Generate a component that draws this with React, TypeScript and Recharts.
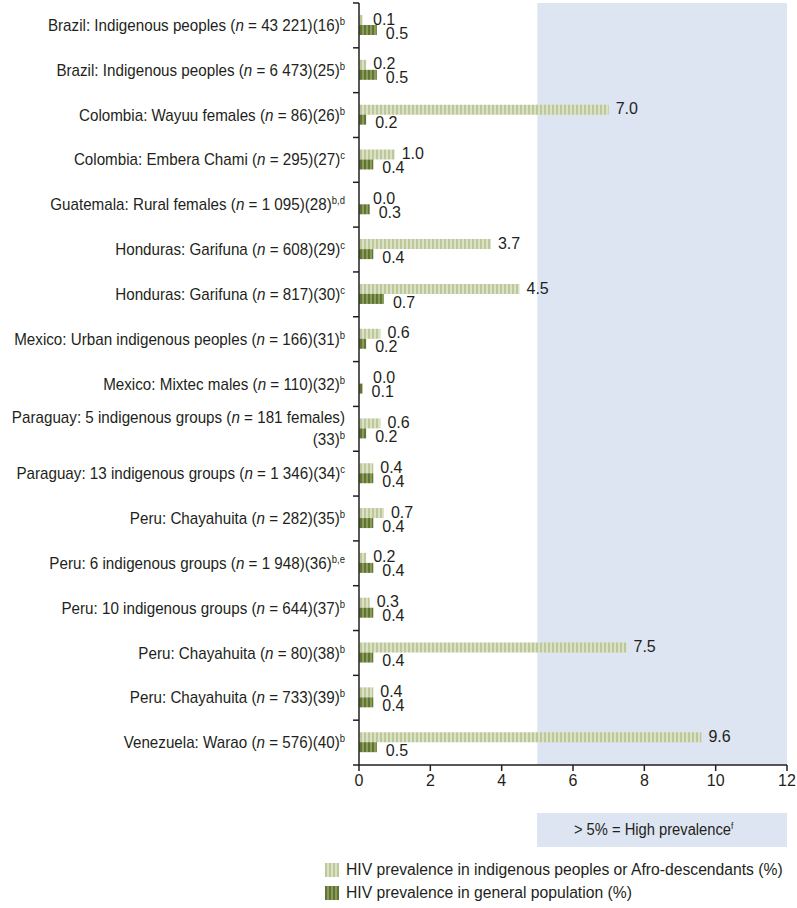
import React from "react";
import {
  BarChart,
  Bar,
  XAxis,
  YAxis,
  ReferenceArea,
  LabelList,
} from "recharts";

const groups = [
  "Brazil: Indigenous peoples",
  "Brazil: Indigenous peoples",
  "Colombia: Wayuu females",
  "Colombia: Embera Chami",
  "Guatemala: Rural females",
  "Honduras: Garifuna",
  "Honduras: Garifuna",
  "Mexico: Urban indigenous peoples",
  "Mexico: Mixtec males",
  "Paraguay: 5 indigenous groups",
  "Paraguay: 13 indigenous groups",
  "Peru: Chayahuita",
  "Peru: 6 indigenous groups",
  "Peru: 10 indigenous groups",
  "Peru: Chayahuita",
  "Peru: Chayahuita",
  "Venezuela: Warao",
];
const sampleSizes = [
  "43 221", "6 473", "86", "295", "1 095", "608", "817", "166", "110",
  "181 females", "1 346", "282", "1 948", "644", "80", "733", "576",
];
const refs = [16, 25, 26, 27, 28, 29, 30, 31, 32, 33, 34, 35, 36, 37, 38, 39, 40];
const notes = ["b", "b", "b", "c", "b,d", "c", "c", "b", "b", "b", "c", "b", "b,e", "b", "b", "b", "b"];

const indigenous = [0.1, 0.2, 7.0, 1.0, 0.0, 3.7, 4.5, 0.6, 0.0, 0.6, 0.4, 0.7, 0.2, 0.3, 7.5, 0.4, 9.6];
const general = [0.5, 0.5, 0.2, 0.4, 0.3, 0.4, 0.7, 0.2, 0.1, 0.2, 0.4, 0.4, 0.4, 0.4, 0.4, 0.4, 0.5];

const xTicks = [0, 2, 4, 6, 8, 10, 12];
const highThreshold = 5;

const data = groups.map((g, i) => ({
  name: String(i),
  indigenous: indigenous[i],
  general: general[i],
}));

const W = 797;
const H = 908;
const margin = { top: 3, right: 10, bottom: 113, left: 0 };
const Y_W = 359;
const X_H = 30;
const band = (H - margin.top - margin.bottom - X_H) / groups.length;

const FONT = '"Liberation Sans", Arial, Helvetica, sans-serif';
const INK = "#231f20";
const LIGHT_A = "#bcc899";
const LIGHT_B = "#dae1c5";
const DARK_A = "#5f7531";
const DARK_B = "#8a9b5c";
const BLUE = "#dde4f2";
// the source font is a narrow grotesque, squeeze Liberation a bit
const SQUEEZE = 0.95;

function Patterns({ prefix }: { prefix: string }) {
  return (
    <defs>
      <pattern id={prefix + "light"} patternUnits="userSpaceOnUse" width={4} height={10}>
        <rect width={4} height={10} fill={LIGHT_B} />
        <rect width={2} height={10} fill={LIGHT_A} />
      </pattern>
      <pattern id={prefix + "dark"} patternUnits="userSpaceOnUse" width={4} height={10}>
        <rect width={4} height={10} fill={DARK_B} />
        <rect width={2} height={10} fill={DARK_A} />
      </pattern>
    </defs>
  );
}

function CategoryTick(props: any) {
  const { x, y, payload } = props;
  const i = Number(payload.value);
  const top = y - band / 2;
  const bottom = y + band / 2;
  const head = `${groups[i]} (`;
  const tail = ` = ${sampleSizes[i]})`;
  const refText = `(${refs[i]})`;
  const sup = <tspan dy={-6} fontSize={10}>{notes[i]}</tspan>;
  const wrap = (head + tail).length > 44;
  const textProps = { x: 0, dy: "0.35em", textAnchor: "end" as const, fontSize: 16, fill: INK, fontFamily: FONT };
  return (
    <g>
      <line x1={x - 6} x2={x} y1={top} y2={top} stroke={INK} strokeWidth={1.5} />
      {i === groups.length - 1 && (
        <line x1={x - 6} x2={x} y1={bottom} y2={bottom} stroke={INK} strokeWidth={1.5} />
      )}
      <g transform={`translate(${x - 14},${y}) scale(${SQUEEZE},1)`}>
        {wrap ? (
          <>
            <text {...textProps} y={-11}>
              {head}
              <tspan fontStyle="italic">n</tspan>
              {tail}
            </text>
            <text {...textProps} y={11}>
              {refText}
              {sup}
            </text>
          </>
        ) : (
          <text {...textProps} y={0}>
            {head}
            <tspan fontStyle="italic">n</tspan>
            {tail}
            {refText}
            {sup}
          </text>
        )}
      </g>
    </g>
  );
}

function ValueTick(props: any) {
  const { x, y, payload } = props;
  return (
    <text x={x} y={y} dy="0.71em" textAnchor="middle" fontSize={16} fill={INK} fontFamily={FONT}>
      {payload.value}
    </text>
  );
}

function makeValueLabel(kind: "light" | "dark") {
  return (props: any) => {
    const { x, y, width, height, value } = props;
    const end = x + width;
    const lx = kind === "light" ? Math.max(end + 7, x + 14) : end + 9;
    const ly = kind === "light" ? y + height / 2 - 1 : y + height / 2 + 3;
    return (
      <text x={lx} y={ly} dy="0.35em" fontSize={16} fill={INK} fontFamily={FONT}>
        {Number(value).toFixed(1)}
      </text>
    );
  };
}

function LegendSwatch({ kind }: { kind: "light" | "dark" }) {
  return (
    <svg width={14} height={14} style={{ display: "block" }}>
      <Patterns prefix={"lg" + kind} />
      <rect width={14} height={14} fill={`url(#lg${kind}${kind})`} />
    </svg>
  );
}

export default function App() {
  return (
    <div style={{ position: "absolute", left: 0, top: 0, width: W, height: H, background: "#fff", fontFamily: FONT }}>
      <BarChart
        width={W}
        height={H}
        data={data}
        layout="vertical"
        margin={margin}
        barSize={10}
        barGap={0}
      >
        <Patterns prefix="" />
        <ReferenceArea x1={highThreshold} x2={12} fill={BLUE} fillOpacity={1} stroke="none" />
        <XAxis
          type="number"
          domain={[0, 12]}
          ticks={xTicks}
          height={X_H}
          tickSize={6}
          tickMargin={4}
          axisLine={{ stroke: INK, strokeWidth: 1.5 }}
          tickLine={{ stroke: INK, strokeWidth: 1.5 }}
          tick={<ValueTick />}
        />
        <YAxis
          type="category"
          dataKey="name"
          width={Y_W}
          tickSize={0}
          tickMargin={0}
          interval={0}
          axisLine={{ stroke: INK, strokeWidth: 1.5 }}
          tickLine={false}
          tick={<CategoryTick />}
        />
        <Bar dataKey="indigenous" fill="url(#light)" minPointSize={0.01} isAnimationActive={false}>
          <LabelList dataKey="indigenous" content={makeValueLabel("light")} />
        </Bar>
        <Bar dataKey="general" fill="url(#dark)" isAnimationActive={false}>
          <LabelList dataKey="general" content={makeValueLabel("dark")} />
        </Bar>
      </BarChart>

      <div
        style={{
          position: "absolute",
          left: 537,
          top: 813,
          width: 250,
          height: 34,
          background: BLUE,
          display: "flex",
          alignItems: "center",
          justifyContent: "center",
          fontSize: 16,
          color: INK,
        }}
      >
        <span style={{ display: "inline-block", marginRight: 16, transform: "scaleX(0.92)" }}>
          &gt; 5% = High prevalence<sup style={{ fontSize: 9 }}>f</sup>
        </span>
      </div>

      <div style={{ position: "absolute", left: 325, top: 858, fontSize: 16, color: INK, lineHeight: "23px" }}>
        <div style={{ display: "flex", alignItems: "center", gap: 7 }}>
          <LegendSwatch kind="light" />
          <span style={{ display: "inline-block", transform: "scaleX(0.98)", transformOrigin: "left" }}>
            HIV prevalence in indigenous peoples or Afro-descendants (%)
          </span>
        </div>
        <div style={{ display: "flex", alignItems: "center", gap: 7 }}>
          <LegendSwatch kind="dark" />
          <span style={{ display: "inline-block", transform: "scaleX(0.98)", transformOrigin: "left" }}>
            HIV prevalence in general population (%)
          </span>
        </div>
      </div>
    </div>
  );
}
